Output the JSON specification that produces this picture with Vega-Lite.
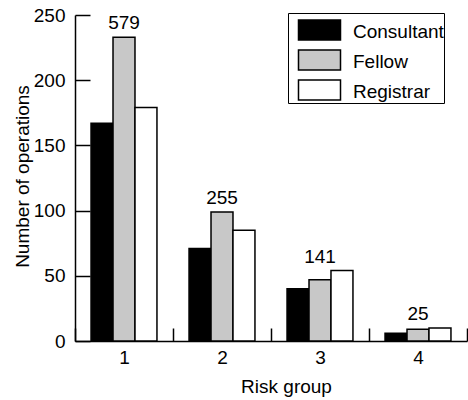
{
  "$schema": "https://vega.github.io/schema/vega-lite/v6.json",
  "width": 392,
  "height": 326,
  "autosize": {"type": "none"},
  "padding": {"left": 75, "top": 15, "right": 1, "bottom": 59},
  "background": "white",
  "config": {
    "font": "Liberation Sans",
    "view": {"stroke": null},
    "axis": {
      "domainColor": "black",
      "domainWidth": 1.5,
      "labelColor": "black",
      "titleColor": "black",
      "labelFont": "Liberation Sans",
      "titleFont": "Liberation Sans",
      "labelFontSize": 19,
      "titleFontSize": 19,
      "titleFontWeight": "normal"
    },
    "axisX": {"tickColor": "black", "tickWidth": 1.5, "grid": false}
  },
  "data": {
    "values": [
      {"group": "1", "grade": "Consultant", "count": 167},
      {"group": "1", "grade": "Fellow", "count": 233},
      {"group": "1", "grade": "Registrar", "count": 179},
      {"group": "2", "grade": "Consultant", "count": 71},
      {"group": "2", "grade": "Fellow", "count": 99},
      {"group": "2", "grade": "Registrar", "count": 85},
      {"group": "3", "grade": "Consultant", "count": 40},
      {"group": "3", "grade": "Fellow", "count": 47},
      {"group": "3", "grade": "Registrar", "count": 54},
      {"group": "4", "grade": "Consultant", "count": 6},
      {"group": "4", "grade": "Fellow", "count": 9},
      {"group": "4", "grade": "Registrar", "count": 10}
    ]
  },
  "layer": [
    {
      "mark": {"type": "bar", "stroke": "black", "strokeWidth": 1.5},
      "encoding": {
        "x": {
          "field": "group",
          "type": "ordinal",
          "scale": {"paddingInner": 0, "paddingOuter": 0},
          "axis": {
            "title": "Risk group",
            "labelAngle": 0,
            "tickBand": "extent",
            "tickSize": -13,
            "labelPadding": 20,
            "titleX": 211,
            "titleY": 51,
            "titleBaseline": "alphabetic",
            "titleAlign": "center"
          }
        },
        "xOffset": {
          "field": "grade",
          "sort": ["Consultant", "Fellow", "Registrar"],
          "scale": {"paddingOuter": 0.73, "paddingInner": 0}
        },
        "y": {
          "field": "count",
          "type": "quantitative",
          "scale": {"domain": [0, 250], "nice": false},
          "axis": {
            "title": "Number of operations",
            "values": [0, 50, 100, 150, 200, 250],
            "ticks": true,
            "tickColor": "black",
            "tickWidth": 1.5,
            "tickSize": -15,
            "labelPadding": 25,
            "grid": false,
            "zindex": 1,
            "titleAngle": -90,
            "titleX": -47,
            "titleY": 161,
            "titleAlign": "center",
            "titleBaseline": "alphabetic"
          }
        },
        "fill": {
          "field": "grade",
          "type": "nominal",
          "scale": {
            "domain": ["Consultant", "Fellow", "Registrar"],
            "range": ["black", "#c8c8c8", "white"]
          },
          "legend": {
            "title": null,
            "orient": "none",
            "legendX": 213,
            "legendY": -2,
            "strokeColor": "black",
            "padding": 0,
            "symbolType": "M-0.466,-0.663H1.836V0.433H-0.466Z",
            "symbolSize": 1332,
            "symbolStrokeColor": "black",
            "symbolStrokeWidth": 1.5,
            "symbolOpacity": 1,
            "labelFont": "Liberation Sans",
            "labelFontSize": 19,
            "labelColor": "black",
            "labelOffset": 27,
            "labelExpr": "datum.label + '  '",
            "rowPadding": 0
          }
        }
      }
    },
    {
      "mark": {"type": "text", "baseline": "alphabetic", "dy": -8, "fontSize": 19, "font": "Liberation Sans", "color": "black"},
      "encoding": {
        "x": {"field": "group", "type": "ordinal"},
        "y": {"aggregate": "max", "field": "count", "type": "quantitative"},
        "text": {"aggregate": "sum", "field": "count", "type": "quantitative"}
      }
    }
  ]
}
